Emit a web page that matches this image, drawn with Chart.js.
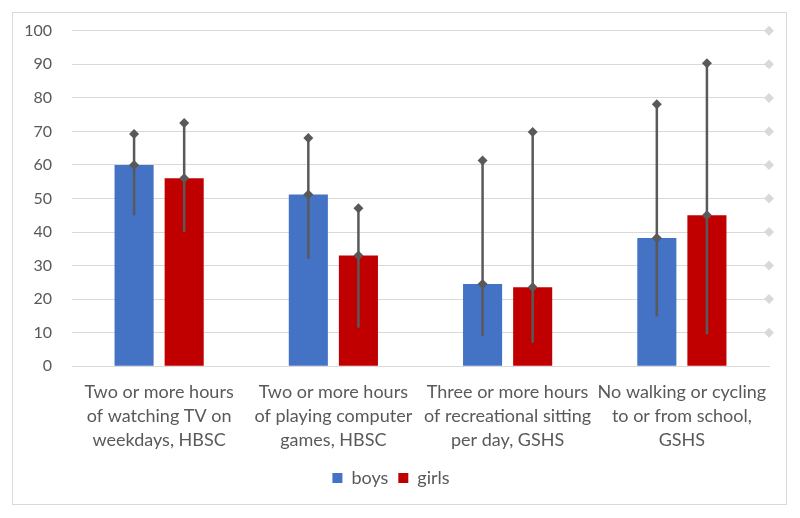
<!DOCTYPE html>
<html>
<head>
<meta charset="utf-8">
<script src="https://cdn.jsdelivr.net/npm/chart.js"></script>
<style>
  body { margin: 0; background: #fff; }
  #box { position: absolute; left: 12px; top: 12px; width: 773px; height: 491px; border: 1px solid #d9d9d9; }
  #wrap { position: absolute; left: 13px; top: 0px; width: 773px; height: 504px; }
</style>
</head>
<body>
<div id="box"></div>
<div id="wrap"><canvas id="chart"></canvas></div>
<script>
const categories = [
    ['Two or more hours', 'of watching TV on', 'weekdays, HBSC'],
    ['Two or more hours', 'of playing computer', 'games, HBSC'],
    ['Three or more hours', 'of recreational sitting', 'per day, GSHS'],
    ['No walking or cycling', 'to or from school,', 'GSHS']
];
const boys = [60, 51.2, 24.5, 38.2];
const girls = [56, 33, 23.5, 45];
const boysLow = [45, 32, 9, 14.8];
const boysHigh = [69.2, 68, 61.3, 78.1];
const girlsLow = [40, 11.5, 7, 9.5];
const girlsHigh = [72.5, 47.1, 69.8, 90.3];
const yTicks = [0, 10, 20, 30, 40, 50, 60, 70, 80, 90, 100];

const lows = [boysLow, girlsLow];
const highs = [boysHigh, girlsHigh];

function diamond(ctx, x, y, r, color) {
    ctx.fillStyle = color;
    ctx.beginPath();
    ctx.moveTo(x, y - r);
    ctx.lineTo(x + r, y);
    ctx.lineTo(x, y + r);
    ctx.lineTo(x - r, y);
    ctx.closePath();
    ctx.fill();
}

// whiskers from low to high, diamonds at the value and the top
const errorBars = {
    id: 'errorBars',
    afterDatasetsDraw(chart) {
        const ctx = chart.ctx;
        const yScale = chart.scales.y;
        ctx.save();
        for (let i = 0; i < 2; i++) {
            chart.getDatasetMeta(i).data.forEach((bar, j) => {
                const lo = yScale.getPixelForValue(lows[i][j]);
                const hi = yScale.getPixelForValue(highs[i][j]);
                ctx.strokeStyle = '#595959';
                ctx.lineWidth = 2.5;
                ctx.beginPath();
                ctx.moveTo(bar.x, lo);
                ctx.lineTo(bar.x, hi);
                ctx.stroke();
                diamond(ctx, bar.x, bar.y, 5, '#595959');
                diamond(ctx, bar.x, hi, 5, '#595959');
            });
        }
        ctx.restore();
    }
};

// light grey diamonds at the right end of each gridline
const edgeMarks = {
    id: 'edgeMarks',
    afterDraw(chart) {
        const ctx = chart.ctx;
        const yScale = chart.scales.y;
        ctx.save();
        yScale.ticks.forEach(t => {
            if (t.value === 0) return;
            diamond(ctx, chart.chartArea.right, yScale.getPixelForValue(t.value), 5, '#d9d9d9');
        });
        ctx.restore();
    }
};

const labelFont = { family: 'Lato', size: 18, lineHeight: 1.33 };
const tickFont = { family: 'Lato', size: 16, lineHeight: 1.35 };

const ctx = document.getElementById('chart').getContext('2d');
new Chart(ctx, {
    type: 'bar',
    data: {
        labels: categories,
        datasets: [
            { label: 'boys', data: boys, backgroundColor: '#4472C4', categoryPercentage: 0.575, barPercentage: 0.78 },
            { label: 'girls', data: girls, backgroundColor: '#C00000', categoryPercentage: 0.575, barPercentage: 0.78 }
        ]
    },
    options: {
        responsive: true,
        maintainAspectRatio: false,
        animation: false,
        layout: { padding: { left: 0, right: 17, top: -12, bottom: 7 } },
        scales: {
            x: {
                afterFit: axis => { axis.height -= 7; },
                grid: { display: false, drawTicks: false },
                border: { display: true, color: '#d9d9d9', width: 1 },
                ticks: { color: '#595959', font: labelFont, padding: 14, maxRotation: 0, autoSkip: false }
            },
            y: {
                min: 0,
                max: 100,
                afterBuildTicks: axis => { axis.ticks = yTicks.map(v => ({ value: v })); },
                afterFit: axis => { axis.width = 59; },
                grid: { color: '#d9d9d9', lineWidth: 1, drawTicks: false },
                border: { display: false },
                ticks: { color: '#595959', font: tickFont, padding: 20 }
            }
        },
        plugins: {
            legend: {
                position: 'bottom',
                labels: { color: '#595959', font: labelFont, boxWidth: 10, boxHeight: 10, padding: 10 }
            },
            tooltip: { enabled: false }
        }
    },
    plugins: [errorBars, edgeMarks]
});
</script>
</body>
</html>
